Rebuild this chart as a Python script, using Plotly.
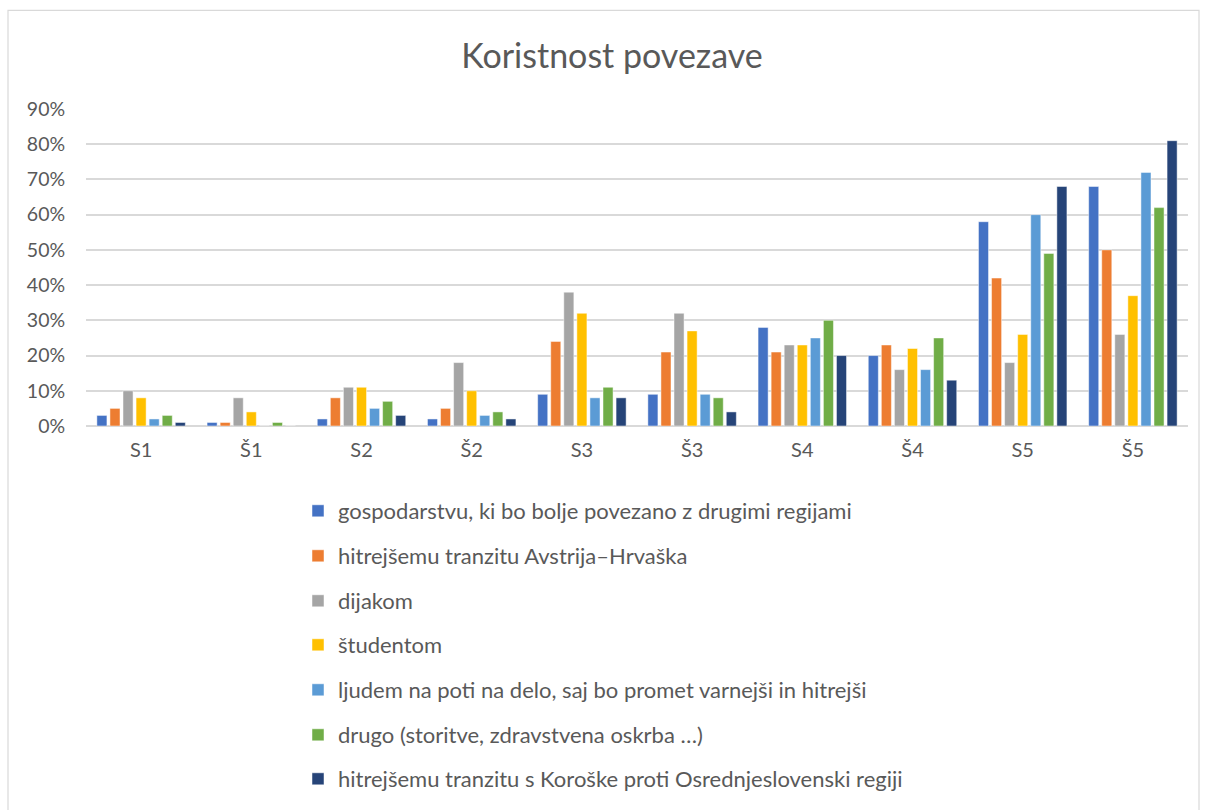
import plotly.graph_objects as go

categories = ["S1", "Š1", "S2", "Š2", "S3", "Š3", "S4", "Š4", "S5", "Š5"]

series_names = [
    "gospodarstvu, ki bo bolje povezano z drugimi regijami",
    "hitrejšemu tranzitu Avstrija–Hrvaška",
    "dijakom",
    "študentom",
    "ljudem na poti na delo, saj bo promet varnejši in hitrejši",
    "drugo (storitve, zdravstvena oskrba …)",
    "hitrejšemu tranzitu s Koroške proti Osrednjeslovenski regiji",
]

gospodarstvo = [0.03, 0.01, 0.02, 0.02, 0.09, 0.09, 0.28, 0.20, 0.58, 0.68]
tranzit_at_hr = [0.05, 0.01, 0.08, 0.05, 0.24, 0.21, 0.21, 0.23, 0.42, 0.50]
dijaki = [0.10, 0.08, 0.11, 0.18, 0.38, 0.32, 0.23, 0.16, 0.18, 0.26]
studenti = [0.08, 0.04, 0.11, 0.10, 0.32, 0.27, 0.23, 0.22, 0.26, 0.37]
delo = [0.02, 0.00, 0.05, 0.03, 0.08, 0.09, 0.25, 0.16, 0.60, 0.72]
drugo = [0.03, 0.01, 0.07, 0.04, 0.11, 0.08, 0.30, 0.25, 0.49, 0.62]
tranzit_koroska = [0.01, 0.00, 0.03, 0.02, 0.08, 0.04, 0.20, 0.13, 0.68, 0.81]

series_values = [gospodarstvo, tranzit_at_hr, dijaki, studenti, delo, drugo, tranzit_koroska]

y_ticks = [0.0, 0.1, 0.2, 0.3, 0.4, 0.5, 0.6, 0.7, 0.8, 0.9]
y_tick_labels = ["0%", "10%", "20%", "30%", "40%", "50%", "60%", "70%", "80%", "90%"]

colors = ["#4472C4", "#ED7D31", "#A5A5A5", "#FFC000", "#5B9BD5", "#70AD47", "#264478"]

FONT = "Lato"
TEXT = "#595959"
GRID = "#D9D9D9"

W, H = 1206, 810
left, right, top, bottom = 86, 1188, 109, 427


def px_x(x):
    return (x - left) / (right - left)


def px_y(y):
    return (bottom - y) / (bottom - top)


fig = go.Figure()
for i, (name, vals, col) in enumerate(zip(series_names, series_values, colors)):
    fig.add_trace(go.Bar(
        x=categories, y=vals, name=name,
        marker=dict(color=col, line=dict(color="rgba(255,255,255,0.6)", width=0.8)),
        legend="legend" if i == 0 else f"legend{i + 1}",
    ))

# one legend per series so each row sits at its own height
layout_legends = {}
legend_rows = [511, 556, 601, 645, 690, 735, 779]
for i, row in enumerate(legend_rows):
    key = "legend" if i == 0 else f"legend{i + 1}"
    layout_legends[key] = dict(
        x=px_x(298), y=px_y(row), xanchor="left", yanchor="middle",
        font=dict(family=FONT, size=22, color=TEXT),
        bgcolor="rgba(0,0,0,0)", itemwidth=30,
    )

fig.update_layout(
    width=W, height=H,
    margin=dict(l=left, r=W - right, t=top, b=H - bottom),
    paper_bgcolor="white", plot_bgcolor="white",
    barmode="group", bargap=0.17, bargroupgap=0.23,
    title=dict(text="Koristnost povezave", x=px_x(612), xref="paper", xanchor="center",
               y=1 - 56 / H, yanchor="middle",
               font=dict(family=FONT, size=34, color=TEXT)),
    font=dict(family=FONT, color=TEXT),
    showlegend=True,
    **layout_legends,
)

fig.update_xaxes(
    showgrid=False, showline=False, zeroline=False,
    tickfont=dict(family=FONT, size=20, color=TEXT),
    ticks="outside", ticklen=6, tickcolor="rgba(0,0,0,0)",
)
fig.update_yaxes(
    range=[0, 0.9], tickvals=y_ticks, ticktext=y_tick_labels,
    showgrid=True, gridcolor=GRID, gridwidth=1.5,
    zeroline=True, zerolinecolor=GRID, zerolinewidth=1.5,
    tickfont=dict(family=FONT, size=19.5, color=TEXT),
    ticks="outside", ticklen=16, tickcolor="rgba(0,0,0,0)",
)

# outer chart frame
fig.add_shape(type="rect", xref="paper", yref="paper",
              x0=px_x(8), x1=px_x(1199), y0=px_y(815), y1=px_y(10),
              line=dict(color=GRID, width=1.2), fillcolor="rgba(0,0,0,0)", layer="below")

fig.write_html("out.html")
